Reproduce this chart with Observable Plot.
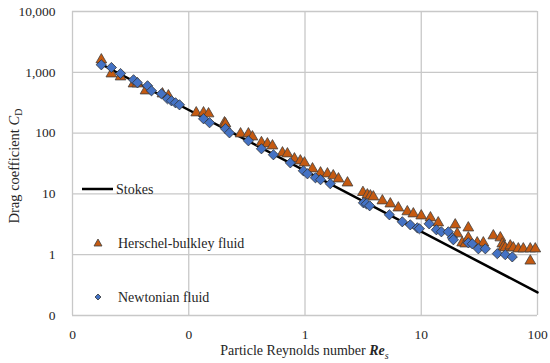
<!DOCTYPE html>
<html>
<head>
<meta charset="utf-8">
<script src="https://cdn.jsdelivr.net/npm/d3@7"></script>
<script src="https://cdn.jsdelivr.net/npm/@observablehq/plot@0.6"></script>
<style>
  html, body { margin: 0; padding: 0; background: #fff; }
  #wrap { position: relative; width: 550px; height: 363px; font-family: "Liberation Serif", "DejaVu Serif", serif; color: #262626; }
  #chart svg { display: block; }
  .xt { position: absolute; left: 72px; width: 465px; top: 343px; text-align: center; font-size: 14px; white-space: nowrap; }
  .yt { position: absolute; left: 15px; top: 166px; transform: translate(-50%, -50%) rotate(-90deg); font-size: 14.5px; white-space: nowrap; }
  .lg { position: absolute; left: 0; top: 0; pointer-events: none; }
</style>
</head>
<body>
<div id="wrap">
  <div id="chart"></div>
  <div class="xt">Particle Reynolds number <b><i>Re</i></b><sub style="font-size:10px"><i>s</i></sub></div>
  <div class="yt">Drag coefficient <i>C</i><sub style="font-size:10px">D</sub></div>
  <svg class="lg" width="550" height="363" font-family="Liberation Serif, serif" font-size="14" fill="#262626">
    <line x1="82" y1="189" x2="113" y2="189" stroke="#000" stroke-width="2.5"></line>
    <text x="116" y="189" dy="0.35em">Stokes</text>
    <path d="M98,239 L102,246 L94,246 Z" fill="#C55A11" stroke="#404040" stroke-width="0.8"></path>
    <text x="118" y="243" dy="0.35em">Herschel-bulkley fluid</text>
    <path d="M98,294 L101,297 L98,300 L95,297 Z" fill="#4472C4" stroke="#333" stroke-width="0.8"></path>
    <text x="118" y="297" dy="0.35em">Newtonian fluid</text>
  </svg>
</div>
<script>
// Tick values and labels
const xTickValues = [0.01, 0.1, 1, 10, 100];
const xTickLabels = ["0", "0", "1", "10", "100"];
const yTickValues = [0.1, 1, 10, 100, 1000, 10000];
const yTickLabels = ["0", "1", "10", "100", "1,000", "10,000"];

// Stokes law line (endpoints)
const stokesRe = [0.0177, 100];
const stokesCd = [1356, 0.24];

// Herschel-bulkley fluid
const hbRe = [0.0177, 0.0216, 0.0259, 0.0335, 0.0362, 0.0425, 0.0594, 0.0668,
  0.116, 0.134, 0.148, 0.203, 0.207, 0.279, 0.326, 0.353, 0.422, 0.475, 0.525,
  0.64, 0.706, 0.811, 0.912, 0.99, 1.16, 1.36, 1.56, 1.75, 1.94, 2.32,
  3.15, 3.44, 3.65, 3.87, 4.63, 5.42, 6.35, 7.59, 8.55, 10.0, 12.0, 14.0,
  19.6, 20.4, 22.5, 23.9, 25.4, 25.4, 30.3, 34.2, 41.7, 47.9, 49.8, 50.8, 52.8,
  58.3, 61.9, 68.4, 75.5, 86.7, 95.7, 86.7];
const hbCd = [1607, 944, 843, 647, 647, 496, 443, 411,
  216, 216, 208, 148, 142, 97.5, 97.5, 86.9, 70, 66.7, 61.8,
  47.4, 45.7, 37.8, 35.0, 32.4, 25.9, 22.2, 21.4, 19.9, 17.7, 15.2,
  10.6, 9.66, 9.31, 8.96, 7.71, 6.87, 5.9, 5.1, 4.71, 4.36, 4.05, 3.35,
  3.10, 2.21, 1.57, 1.51, 2.77, 1.90, 1.57, 1.57, 2.05, 1.90, 1.51, 1.35, 1.30,
  1.40, 1.30, 1.25, 1.25, 1.25, 1.25, 0.79];

// Newtonian fluid
const nRe = [0.0177, 0.0216, 0.0259, 0.0335, 0.0362, 0.0442, 0.0478, 0.0582,
  0.0656, 0.071, 0.0769, 0.0832, 0.134, 0.151, 0.207, 0.224, 0.326, 0.422,
  0.535, 0.748, 0.968, 1.05, 1.23, 1.36, 1.65, 3.18, 3.37, 3.6, 5.32, 6.87,
  8.05, 9.25, 9.64, 11.7, 13.5, 14.9, 17.1, 18.5, 18.9, 25.4, 27.5, 31.0,
  35.6, 45.1, 52.8, 60.7];
const nCd = [1328, 1199, 955, 753, 672, 600, 496, 443,
  367, 340, 315, 292, 172, 148, 118, 101, 74.7, 55.2,
  44.0, 32.4, 24.0, 21.4, 18.4, 17.1, 14.7, 7.14, 6.87, 6.37, 4.53, 3.48,
  3.10, 2.77, 2.67, 3.22, 2.57, 2.38, 2.38, 1.90, 1.76, 1.57, 1.51, 1.25,
  1.25, 1.04, 1.00, 0.92];

const stokes = stokesRe.map((r, i) => ({re: r, cd: stokesCd[i]}));
const hb = hbRe.map((r, i) => ({re: r, cd: hbCd[i]}));
const newt = nRe.map((r, i) => ({re: r, cd: nCd[i]}));

function lookup(values, labels) {
  return d => {
    const i = values.findIndex(v => Math.abs(Math.log10(v) - Math.log10(d)) < 1e-6);
    return i >= 0 ? labels[i] : "";
  };
}

const chart = Plot.plot({
  width: 550,
  height: 363,
  marginLeft: 72,
  marginRight: 13,
  marginTop: 11,
  marginBottom: 48,
  style: {fontFamily: "Liberation Serif, serif", fontSize: "13.5px", color: "#262626", background: "white"},
  x: {type: "log", domain: [0.01, 100], ticks: xTickValues, tickFormat: lookup(xTickValues, xTickLabels),
      tickSize: 0, tickPadding: 14, label: null},
  y: {type: "log", domain: [0.1, 10000], ticks: yTickValues, tickFormat: lookup(yTickValues, yTickLabels),
      tickSize: 0, tickPadding: 17, label: null},
  marks: [
    Plot.ruleX(xTickValues, {x: d => d, stroke: "#c8c8c8", strokeWidth: 1.3}),
    Plot.ruleY(yTickValues, {y: d => d, stroke: "#c8c8c8", strokeWidth: 1.3}),
    Plot.line(stokes, {x: "re", y: "cd", stroke: "#000", strokeWidth: 2.5}),
    Plot.dot(hb, {x: "re", y: "cd", symbol: "triangle", r: 4, fill: "#C55A11", stroke: "#404040", strokeWidth: 0.8}),
    Plot.dot(newt, {x: "re", y: "cd", symbol: "diamond2", r: 4.6, fill: "#4472C4", stroke: "#333", strokeWidth: 0.8})
  ]
});
document.getElementById("chart").appendChild(chart);
</script>
</body>
</html>
